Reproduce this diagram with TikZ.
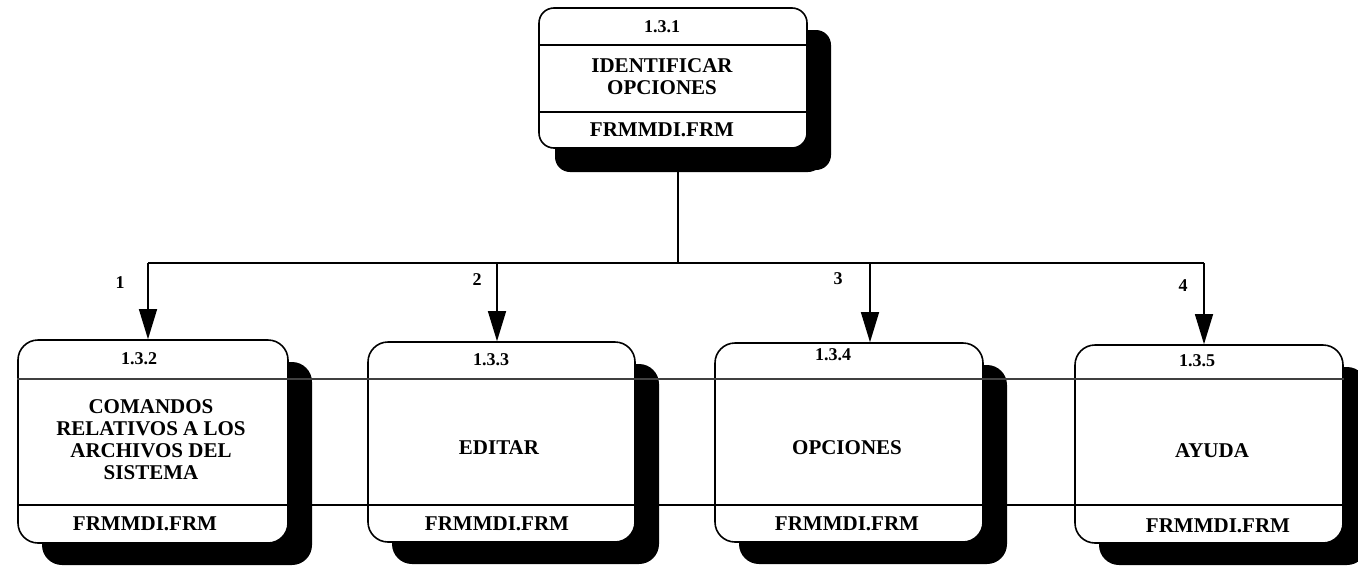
\documentclass[tikz,border=0pt]{standalone}
\usepackage{fontspec}
\setmainfont{Liberation Serif}
\usetikzlibrary{shadows,arrows.meta}
\begin{document}
\begin{tikzpicture}[x=1pt,y=-1pt,
  procbox/.style n args={3}{draw=black, line width=1.6pt, fill=white,
    rounded corners=#3, minimum width=#1, minimum height=#2, inner sep=0pt,
    drop shadow={shadow xshift=24pt, shadow yshift=-22pt, fill=black, opacity=1}},
  txt/.style={font=\bfseries\fontsize{21}{22}\selectfont, align=center, inner sep=0pt},
  numtxt/.style={font=\bfseries\fontsize{18}{20}\selectfont, inner sep=0pt},
  wire/.style={line width=1.3pt},
  divider/.style={line width=1.5pt},
  arr/.style={line width=1.3pt, -{Triangle[length=30pt,width=18pt]}}]
\useasboundingbox (0,0) rectangle (1358,568);

% parent process
\node[procbox={268pt}{140pt}{15pt}, drop shadow={shadow xshift=16pt, shadow yshift=-24pt, fill=black, opacity=1}] (top) at (673,78) {};
\draw[divider] (top.west |- 0,45) -- (top.east |- 0,45);
\draw[divider] (top.west |- 0,112) -- (top.east |- 0,112);
\node[numtxt] (t1) at (662,27) {1.3.1};
\node[txt] (t2) at (662,77) {IDENTIFICAR\\OPCIONES};
\node[txt] (t3) at (662,130) {FRMMDI.FRM};

% child processes
\node[procbox={270pt}{203pt}{20pt}] (b1) at (153,441.5) {};
\node[procbox={267pt}{200pt}{20pt}] (b2) at (501.5,442) {};
\node[procbox={268pt}{199pt}{20pt}] (b3) at (849,442.5) {};
\node[procbox={268pt}{198pt}{20pt}] (b4) at (1209,444) {};

% row dividers running across all child boxes
\coordinate (ya) at (0,379);
\coordinate (yb) at (0,505);
\draw[divider, draw=black!75] (b1.west |- ya) -- (b4.east |- ya);
\draw[divider] (b1.west |- yb) -- (b4.east |- yb);

% child texts
\node[numtxt] (n1) at (139,359) {1.3.2};
\node[numtxt] (n2) at (491,360) {1.3.3};
\node[numtxt] (n3) at (833,355) {1.3.4};
\node[numtxt] (n4) at (1197,361) {1.3.5};

\node[txt] (c1) at (151,440) {COMANDOS\\RELATIVOS A LOS\\ARCHIVOS DEL\\SISTEMA};
\node[txt] (c2) at (499,448) {EDITAR};
\node[txt] (c3) at (847,448) {OPCIONES};
\node[txt] (c4) at (1212,451) {AYUDA};

\node[txt] (f1) at (145,524) {FRMMDI.FRM};
\node[txt] (f2) at (497,524) {FRMMDI.FRM};
\node[txt] (f3) at (847,524) {FRMMDI.FRM};
\node[txt] (f4) at (1218,526) {FRMMDI.FRM};

% connectors
\coordinate (bus) at (678,263);
\coordinate (j1) at (148,263);
\coordinate (j2) at (497,263);
\coordinate (j3) at (870,263);
\coordinate (j4) at (1204,263);
\draw[wire] ([xshift=5pt]top.south) -- (bus);
\draw[wire] (j1) -- (j4);
\draw[arr] (j1) -- (j1 |- b1.north);
\draw[arr] (j2) -- (j2 |- b2.north);
\draw[arr] (j3) -- (j3 |- b3.north);
\draw[arr] (j4) -- (j4 |- b4.north);

% flow labels
\node[numtxt] (l1) at (120,283) {1};
\node[numtxt] (l2) at (477,280) {2};
\node[numtxt] (l3) at (838,279) {3};
\node[numtxt] (l4) at (1183,286) {4};
\end{tikzpicture}
\end{document}
